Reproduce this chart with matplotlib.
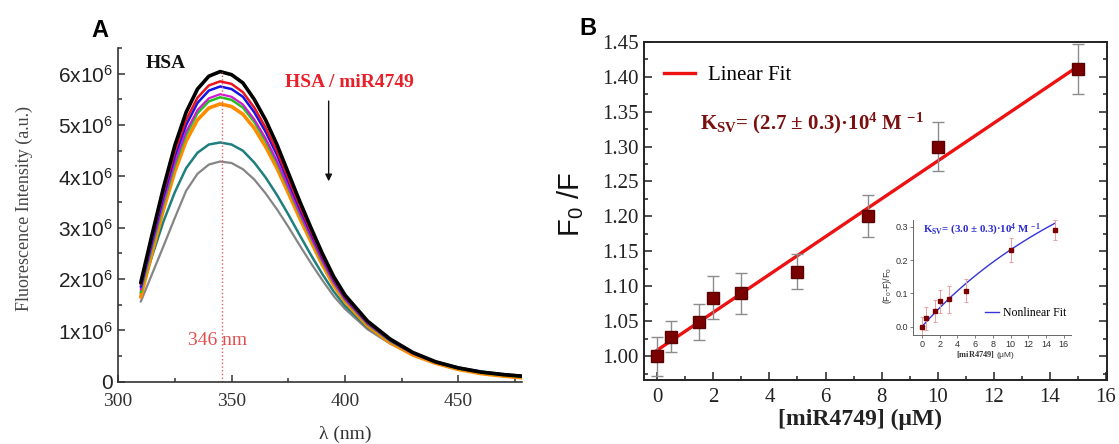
import numpy as np
import matplotlib.pyplot as plt
from matplotlib.ticker import MultipleLocator, FuncFormatter

plt.rcParams['mathtext.fontset'] = 'custom'
plt.rcParams['mathtext.rm'] = 'Liberation Serif'
plt.rcParams['mathtext.bf'] = 'Liberation Serif:bold'
plt.rcParams['mathtext.it'] = 'Liberation Serif:italic'
plt.rcParams['mathtext.sf'] = 'Liberation Sans'

# ---- panel A: emission spectra (intensity in units of 1e6) ----
wl = [310, 315, 320, 325, 330, 335, 340, 345, 350, 355, 360, 365, 370, 375,
      380, 385, 390, 395, 400, 410, 420, 430, 440, 450, 460, 470, 478]

spec_black = [1.93, 2.87, 3.78, 4.60, 5.25, 5.70, 5.95, 6.04, 5.98, 5.82, 5.50, 5.10, 4.62, 4.07,
              3.52, 3.00, 2.50, 2.05, 1.69, 1.18, 0.83, 0.57, 0.39, 0.27, 0.19, 0.14, 0.11]
spec_red = [1.90, 2.81, 3.69, 4.48, 5.10, 5.53, 5.77, 5.85, 5.80, 5.64, 5.34, 4.95, 4.49, 3.96,
            3.43, 2.93, 2.45, 2.01, 1.66, 1.16, 0.82, 0.56, 0.39, 0.27, 0.19, 0.14, 0.11]
spec_blue = [1.85, 2.74, 3.61, 4.39, 5.00, 5.43, 5.67, 5.75, 5.70, 5.55, 5.25, 4.87, 4.42, 3.90,
             3.38, 2.89, 2.42, 1.99, 1.64, 1.15, 0.81, 0.56, 0.38, 0.27, 0.19, 0.14, 0.11]
spec_magenta = [1.80, 2.67, 3.51, 4.27, 4.87, 5.29, 5.52, 5.60, 5.55, 5.40, 5.11, 4.74, 4.30, 3.80,
                3.30, 2.82, 2.36, 1.94, 1.61, 1.13, 0.80, 0.55, 0.38, 0.27, 0.19, 0.14, 0.11]
spec_green = [1.75, 2.62, 3.46, 4.21, 4.81, 5.23, 5.46, 5.54, 5.49, 5.34, 5.06, 4.69, 4.26, 3.77,
              3.27, 2.80, 2.34, 1.93, 1.60, 1.12, 0.79, 0.55, 0.38, 0.26, 0.18, 0.13, 0.10]
spec_orange = [1.65, 2.52, 3.35, 4.09, 4.69, 5.10, 5.33, 5.41, 5.36, 5.21, 4.94, 4.58, 4.16, 3.68,
               3.19, 2.73, 2.28, 1.88, 1.56, 1.09, 0.76, 0.52, 0.36, 0.24, 0.16, 0.11, 0.08]
spec_teal = [1.72, 2.45, 3.12, 3.69, 4.16, 4.46, 4.62, 4.66, 4.62, 4.50, 4.27, 3.98, 3.64, 3.26,
             2.86, 2.47, 2.10, 1.76, 1.48, 1.06, 0.77, 0.55, 0.39, 0.28, 0.20, 0.15, 0.12]
spec_gray = [1.56, 2.10, 2.64, 3.19, 3.72, 4.05, 4.23, 4.29, 4.26, 4.14, 3.94, 3.67, 3.36, 3.02,
             2.66, 2.31, 1.98, 1.67, 1.42, 1.02, 0.74, 0.53, 0.38, 0.27, 0.19, 0.14, 0.11]
peak_wl = 346

# ---- panel B: Stern-Volmer ----
conc = [0, 0.5, 1.5, 2, 3, 5, 7.5, 10, 15]
f0_f = [1.000, 1.028, 1.049, 1.084, 1.090, 1.121, 1.200, 1.300, 1.411]
f0_f_err = [0.028, 0.022, 0.026, 0.031, 0.029, 0.025, 0.030, 0.035, 0.036]

ins_conc = [0, 0.5, 1.5, 2, 3, 5, 10, 15]
ins_quench = [0.000, 0.025, 0.047, 0.076, 0.082, 0.108, 0.230, 0.290]
ins_err = [0.030, 0.035, 0.033, 0.035, 0.040, 0.035, 0.037, 0.030]
k_nl = 0.030  # uM^-1, from the nonlinear fit label

serif = 'Liberation Serif'
sans = 'Liberation Sans'

fig = plt.figure(figsize=(11.19, 4.44), dpi=100)

# ================= A =================
axA = fig.add_axes([0.1055, 0.140, 0.361, 0.752])
curves = [(spec_gray, '#858585', 1.6), (spec_teal, '#1f7f7f', 1.8),
          (spec_orange, '#ff8c00', 2.6), (spec_green, '#22c322', 1.8),
          (spec_magenta, '#d21ad2', 1.6), (spec_blue, '#1414e6', 1.8),
          (spec_red, '#e8141e', 1.8), (spec_black, '#000000', 2.6)]
for vals, col, lw in curves:
    axA.plot(wl, np.array(vals) * 1e6, color=col, lw=lw, solid_capstyle='round',
             solid_joinstyle='round')

axA.vlines(peak_wl, 0, max(spec_black) * 1e6, colors='#e06060', linestyles=':', lw=1.0)
axA.set_xlim(300, 478)
axA.set_ylim(0, 6.5e6)
axA.spines['top'].set_visible(False)
axA.spines['right'].set_visible(False)
for s in ['left', 'bottom']:
    axA.spines[s].set_color('#333333')
    axA.spines[s].set_linewidth(1.2)
axA.xaxis.set_major_locator(MultipleLocator(50))
axA.xaxis.set_minor_locator(MultipleLocator(25))
axA.yaxis.set_major_locator(MultipleLocator(1e6))
axA.yaxis.set_minor_locator(MultipleLocator(0.5e6))
axA.tick_params(which='both', direction='in', color='#333333', width=1.1)
axA.tick_params(which='major', length=5)
axA.tick_params(which='minor', length=3)
axA.yaxis.set_major_formatter(FuncFormatter(
    lambda v, p: '0' if v == 0 else r'$\mathsf{%dx10^{6}}$' % round(v / 1e6)))
axA.tick_params(axis='y', pad=4, labelsize=15, labelcolor='#222222')
axA.tick_params(axis='x', pad=8, labelsize=14, labelcolor='#333333')
for lab in axA.get_yticklabels():
    lab.set_fontfamily(sans)
for lab in axA.get_xticklabels():
    lab.set_fontfamily(serif)

axA.set_ylabel('Fluorescence Intensity (a.u.)', fontfamily=serif, fontsize=13, color='#444444')
axA.yaxis.set_label_coords(-0.21, 0.52)
axA.set_xlabel('λ (nm)', fontfamily=serif, fontsize=14, color='#333333')
axA.xaxis.set_label_coords(0.562, -0.13)

axA.text(312, 6.2e6, 'HSA', fontfamily=serif, fontweight='bold', fontsize=14, color='#111111',
         va='center')
axA.text(402, 5.82e6, 'HSA / miR4749', fontfamily=serif, fontweight='bold', fontsize=14,
         color='#e8202a', ha='center', va='center')
axA.annotate('', xy=(392.8, 3.85e6), xytext=(392.8, 5.52e6),
             arrowprops=dict(arrowstyle='-|>', color='#111111', lw=1.0, mutation_scale=10))
axA.text(344, 0.8e6, '346 nm', fontfamily=serif, fontsize=14, color='#e05050',
         ha='center', va='center')

fig.text(0.082, 0.917, 'A', fontfamily=sans, fontweight='bold', fontsize=17)

# ================= B =================
axB = fig.add_axes([0.5755, 0.1441, 0.4138, 0.762])
slope, icpt = np.polyfit(conc, f0_f, 1)
xfit = np.array([min(conc), max(conc)])
axB.plot(xfit, slope * xfit + icpt, color='#ee1111', lw=2.4, label='Linear Fit', zorder=2)
axB.errorbar(conc, f0_f, yerr=f0_f_err, fmt='s', ms=8, mfc='#7a0000', mec='#5a0000',
             ecolor='#8c8c8c', elinewidth=1.0, capsize=4, capthick=1.0, zorder=3)
axB.set_xlim(-0.48, 16.05)
axB.set_ylim(0.966, 1.45)
axB.xaxis.set_major_locator(MultipleLocator(2))
axB.xaxis.set_minor_locator(MultipleLocator(1))
axB.yaxis.set_major_locator(MultipleLocator(0.05))
axB.yaxis.set_minor_locator(MultipleLocator(0.025))
axB.yaxis.set_major_formatter(FuncFormatter(lambda v, p: '%.2f' % v))
axB.tick_params(which='both', direction='in', right=True, color='#222222', width=1.1)
axB.tick_params(which='major', length=6)
axB.tick_params(which='minor', length=3)
axB.tick_params(labelsize=15, colors='#222222', pad=6)
axB.tick_params(axis='y', pad=4)
for lab in axB.get_xticklabels() + axB.get_yticklabels():
    lab.set_fontfamily(serif)
for s in axB.spines.values():
    s.set_linewidth(1.4)
    s.set_color('#222222')

axB.set_xlabel('[miR4749] (μM)', fontfamily=serif, fontweight='bold', fontsize=17, color='#222222')
axB.xaxis.set_label_coords(0.467, -0.085)
axB.set_ylabel(r'F$_{\mathsf{0}}$ /F', fontfamily=sans, fontsize=21, color='#111111')
axB.yaxis.set_label_coords(-0.125, 0.52)

axB.legend(loc='upper left', bbox_to_anchor=(0.043, 0.93), frameon=False, borderpad=0,
           borderaxespad=0, handlelength=1.5, handletextpad=0.6,
           prop=dict(family=serif, size=15))
axB.text(0.12, 0.76, r'K$_{\mathbf{SV}}$= (2.7 ± 0.3)·10$^{\mathbf{4}}$ M $^{\mathbf{-1}}$',
         transform=axB.transAxes, fontfamily=serif, fontweight='bold', fontsize=15,
         color='#7a1010', va='center')

fig.text(0.518, 0.921, 'B', fontfamily=sans, fontweight='bold', fontsize=17)

# ---- inset ----
axI = fig.add_axes([0.816, 0.2455, 0.141, 0.259])
xs = np.linspace(0, max(ins_conc), 60)
axI.plot(xs, k_nl * xs / (1 + k_nl * xs), color='#3535d8', lw=1.0, label='Nonlinear Fit')
axI.errorbar(ins_conc, ins_quench, yerr=ins_err, fmt='s', ms=2.8, mfc='#7a0000', mec='#7a0000',
             ecolor='#eaa0a0', elinewidth=0.7, capsize=1.5, capthick=0.7)
axI.set_xlim(-1.0, 16.8)
axI.set_ylim(-0.025, 0.32)
axI.patch.set_alpha(0)
axI.spines['top'].set_visible(False)
axI.spines['right'].set_visible(False)
for s in ['left', 'bottom']:
    axI.spines[s].set_color('#666666')
    axI.spines[s].set_linewidth(0.7)
axI.xaxis.set_major_locator(MultipleLocator(2))
axI.yaxis.set_major_locator(MultipleLocator(0.1))
axI.yaxis.set_major_formatter(FuncFormatter(lambda v, p: '%.1f' % v))
axI.tick_params(direction='out', length=2, width=0.6, color='#666666', labelsize=6.5,
                labelcolor='#333333', pad=1.5)
for lab in axI.get_xticklabels() + axI.get_yticklabels():
    lab.set_fontfamily(sans)
axI.set_xlabel(r'$\mathsf{\mathbf{[miR4749]}}$ (μM)', fontfamily=sans, fontsize=6, color='#333333')
axI.xaxis.set_label_coords(0.456, -0.125)
axI.set_ylabel(r'(F$_{\mathsf{0}}$-F)/F$_{\mathsf{0}}$', fontfamily=sans, fontsize=6.5,
               color='#333333')
axI.yaxis.set_label_coords(-0.12, 0.43)
axI.legend(loc='lower right', bbox_to_anchor=(0.97, 0.14), frameon=False, borderpad=0,
           borderaxespad=0, handlelength=1.2, handletextpad=0.3,
           prop=dict(family=serif, size=8.5))
axI.text(0.06, 0.91, r'K$_{\mathbf{SV}}$= (3.0 ± 0.3)·10$^{\mathbf{4}}$ M $^{\mathbf{-1}}$',
         transform=axI.transAxes, fontfamily=serif, fontweight='bold', fontsize=7.8,
         color='#2a2ad0', va='center')

fig.savefig('out.png', dpi=100)
